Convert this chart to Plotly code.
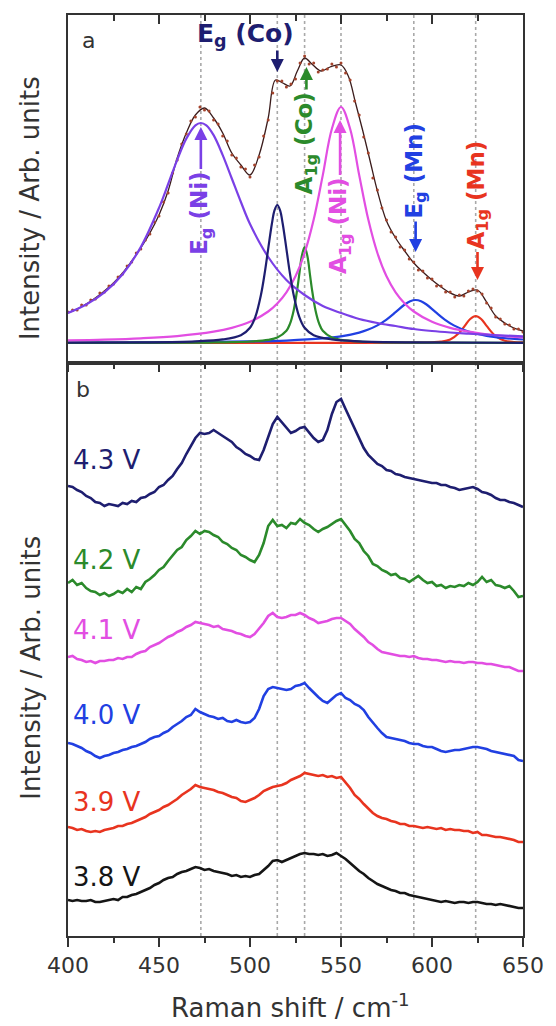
import numpy as np
import plotly.graph_objects as go

FONT = "DejaVu Sans"
AX = "#333333"

# ---------------- Raman shift sampling (cm-1) ----------------
shift = np.arange(400, 650.01, 2.5)

# ---------------- Panel a: measured spectrum + fit ----------------
measured_a = [31, 33, 33, 38, 38, 43, 44, 50, 51, 57,
              59, 66, 69, 77, 81, 90, 94, 103, 109, 121,
              127, 141, 150, 170, 183, 199, 209, 222, 226, 236,
              233, 232, 223, 219, 207, 202, 188, 185, 176, 174,
              166, 178, 186, 207, 223, 250, 262, 262, 256, 259,
              264, 280, 287, 279, 280, 271, 273, 274, 279, 276,
              280, 270, 263, 242, 228, 206, 190, 165, 153, 135,
              123, 111, 106, 96, 93, 84, 81, 73, 72, 65,
              64, 57, 57, 51, 51, 46, 48, 47, 52, 54,
              52, 49, 40, 35, 26, 24, 19, 18, 14, 14,
              11]

fit_x = [400, 405, 410, 415, 420, 425, 430, 435, 440, 445, 450, 455, 460, 465,
         470, 475, 480, 485, 490, 495, 500, 505, 510, 514, 518, 522, 526, 530,
         534, 539, 544, 550, 554, 558, 562, 566, 570, 575, 580, 585, 590, 595,
         600, 605, 610, 615, 620, 625, 630, 635, 640, 645, 650]
fit_y = [30, 34, 39, 45, 52, 60, 70, 82, 95, 110, 128, 152, 185, 210,
         228, 235, 225, 210, 190, 178, 168, 188, 225, 263, 260, 257, 272, 285,
         279, 272, 276, 278, 267, 240, 212, 182, 152, 122, 105, 92, 80, 71,
         63, 56, 50, 47, 51, 53, 41, 27, 20, 15, 12]

# fitted bands
eg_ni_x = [400, 410, 420, 430, 440, 450, 455, 460, 465, 470, 473, 476, 480, 485,
           490, 495, 500, 510, 520, 530, 540, 550, 560, 570, 580, 590, 600, 610,
           620, 630, 640, 650]
eg_ni_y = [30.0, 38.5, 50.7, 68.8, 95.9, 135.1, 158.8, 183.2, 204.4, 217.7, 220, 217.7,
           207.9, 187.9, 164.5, 141.0, 119.0, 86.0, 63.0, 48.0, 37.0, 30.0, 24.0, 20.0,
           17.0, 14.0, 12.0, 10.5, 9.3, 8.3, 7.4, 6.7]

eg_co_x = [400, 440, 470, 485, 495, 500, 503, 506, 508, 510, 512, 513.5, 515,
           516.5, 518, 520, 522, 524, 527, 530, 535, 545, 560, 590, 650]
eg_co_y = [0.25, 0.6, 1.63, 3.55, 7.8, 15.2, 26.5, 48, 69, 94.2, 119, 132.8, 138,
           132.8, 119, 94.2, 69, 48, 26.5, 15.2, 7.8, 3.55, 1.63, 0.6, 0.2]

a1g_co_x = [400, 470, 480, 490, 500, 510, 515, 520, 522, 524, 526, 527, 528.5, 530,
            531.5, 533, 534, 536, 538, 540, 545, 550, 560, 570, 590, 650]
a1g_co_y = [0.08, 0.37, 0.54, 0.84, 1.5, 3.2, 5.5, 12.2, 19.4, 32.6, 54.2, 67.7, 87.2, 96,
            87.2, 67.7, 54.2, 32.6, 19.4, 12.2, 5.5, 3.2, 1.5, 0.84, 0.37, 0.09]

a1g_ni_x = [400, 420, 440, 460, 480, 490, 500, 510, 515, 520, 525, 530, 535, 540,
            545, 550, 555, 560, 565, 570, 575, 580, 585, 590, 600, 610, 620, 630,
            640, 650]
a1g_ni_y = [2.56, 3.39, 4.71, 6.97, 11.3, 15.1, 21.2, 31.5, 39.5, 50.7, 66.7, 90.0, 123.4,
            167.9, 214.3, 236, 214.3, 167.9, 123.4, 90.0, 66.7, 50.7, 39.5, 31.5, 21.2,
            15.1, 11.3, 8.75, 6.97, 5.68]

eg_mn_x = [400, 450, 500, 520, 540, 550, 560, 565, 570, 575, 580, 585, 588, 591,
           594, 597, 602, 607, 612, 620, 630, 640, 650]
eg_mn_y = [0.36, 0.65, 1.54, 2.46, 4.53, 6.63, 10.4, 13.4, 17.6, 23.4, 30.8, 38.5, 41.8, 43,
           41.8, 38.5, 30.8, 23.4, 17.6, 11.5, 7.2, 4.9, 3.5]

a1g_mn_x = [400, 560, 590, 600, 605, 610, 615, 618, 621, 624, 627, 630, 635, 640, 645, 650]
a1g_mn_y = [0.05, 0.11, 0.38, 0.72, 1.3, 3.5, 10.3, 17.1, 24.0, 27, 24.0, 17.1, 6.8, 2.3,
            1.0, 0.62]

# band positions marked by dotted guides
band_positions = [473, 515, 530, 550, 590, 624]

# ---------------- Panel b: spectra vs. potential (offset) ----------------
potentials = ["4.3 V", "4.2 V", "4.1 V", "4.0 V", "3.9 V", "3.8 V"]

v43 = [450, 449, 446, 444, 440, 438, 434, 433, 430, 432,
       431, 430, 433, 432, 435, 434, 438, 439, 442, 444,
       449, 451, 456, 460, 467, 473, 482, 490, 498, 503,
       502, 503, 506, 503, 500, 497, 494, 489, 486, 482,
       480, 477, 476, 486, 498, 512, 519, 514, 508, 503,
       505, 508, 509, 503, 498, 494, 496, 506, 522, 534,
       537, 527, 517, 508, 498, 488, 481, 476, 472, 470,
       466, 465, 462, 461, 459, 458, 457, 456, 455, 454,
       453, 453, 451, 451, 449, 448, 446, 447, 448, 449,
       447, 444, 443, 441, 438, 436, 436, 434, 433, 431,
       429]
v42 = [353, 356, 351, 353, 348, 345, 344, 341, 343, 340,
       342, 345, 343, 347, 344, 349, 347, 354, 357, 361,
       366, 369, 375, 380, 386, 389, 396, 400, 405, 402,
       405, 404, 401, 399, 394, 392, 388, 386, 381, 379,
       376, 374, 381, 393, 410, 416, 410, 411, 408, 413,
       412, 417, 413, 411, 407, 404, 407, 409, 412, 415,
       417, 411, 405, 397, 393, 385, 380, 372, 370, 366,
       364, 361, 362, 358, 357, 354, 357, 360, 356, 353,
       354, 350, 351, 348, 350, 349, 351, 350, 353, 351,
       354, 359, 354, 356, 351, 350, 348, 350, 345, 339,
       340]
v41 = [279, 280, 277, 276, 274, 275, 273, 275, 275, 276,
       276, 278, 277, 279, 279, 282, 284, 285, 289, 291,
       293, 296, 299, 301, 304, 306, 309, 311, 314, 313,
       312, 311, 309, 310, 307, 306, 305, 303, 302, 300,
       299, 302, 307, 313, 320, 323, 319, 318, 319, 321,
       321, 323, 321, 318, 316, 313, 314, 315, 317, 318,
       318, 315, 312, 307, 303, 299, 294, 291, 287, 284,
       283, 282, 281, 280, 280, 279, 280, 278, 277, 277,
       276, 276, 275, 274, 275, 274, 274, 273, 274, 274,
       273, 273, 272, 272, 271, 270, 269, 269, 267, 265,
       265]
v40 = [193, 192, 190, 188, 185, 183, 180, 178, 180, 181,
       183, 184, 186, 187, 189, 190, 192, 194, 197, 199,
       200, 203, 205, 209, 212, 215, 219, 221, 227, 224,
       222, 220, 219, 217, 218, 215, 214, 216, 214, 213,
       214, 218, 227, 240, 247, 249, 248, 247, 246, 247,
       250, 251, 253, 248, 243, 239, 235, 233, 237, 241,
       243, 238, 236, 232, 230, 226, 219, 213, 208, 203,
       199, 198, 197, 196, 195, 193, 192, 192, 190, 189,
       189, 187, 185, 184, 185, 186, 186, 187, 188, 189,
       189, 188, 187, 185, 184, 183, 182, 181, 180, 176,
       175]
v39 = [109, 108, 106, 107, 105, 104, 105, 104, 106, 107,
       108, 110, 110, 112, 113, 115, 117, 119, 122, 124,
       126, 129, 131, 134, 137, 141, 144, 147, 151, 149,
       148, 147, 146, 144, 143, 141, 139, 138, 135, 134,
       136, 138, 141, 145, 147, 149, 150, 151, 153, 156,
       158, 160, 163, 162, 161, 160, 161, 159, 160, 158,
       159, 154, 148, 141, 137, 132, 127, 123, 120, 118,
       117, 115, 114, 112, 112, 110, 110, 109, 108, 109,
       108, 107, 108, 106, 107, 106, 106, 105, 105, 103,
       104, 101, 101, 100, 99, 99, 98, 97, 96, 94,
       94]
v38 = [36, 35, 36, 35, 35, 36, 34, 34, 35, 36,
       37, 36, 39, 39, 41, 42, 44, 46, 48, 51,
       53, 56, 58, 59, 62, 64, 65, 67, 69, 68,
       66, 67, 65, 64, 63, 62, 60, 61, 59, 60,
       59, 61, 62, 66, 70, 75, 76, 74, 76, 78,
       80, 82, 83, 82, 82, 81, 82, 80, 81, 83,
       80, 77, 73, 69, 65, 62, 58, 55, 52, 50,
       48, 46, 45, 43, 43, 41, 40, 39, 38, 37,
       36, 35, 34, 35, 34, 33, 34, 34, 33, 34,
       34, 33, 32, 32, 31, 32, 31, 30, 29, 28,
       28]

spectra_b = [v43, v42, v41, v40, v39, v38]
for s in spectra_b + [measured_a]:
    assert len(s) == len(shift)

NAVY = "#1e1e70"
GREEN = "#2b8a2b"
MAGENTA = "#e24ee2"
BLUE = "#2140e2"
RED = "#e8341f"
PURPLE = "#7a40e6"
BLACK = "#151515"
b_colors = [NAVY, GREEN, MAGENTA, BLUE, RED, BLACK]

fig = go.Figure()

# ---- panel a ----
fig.add_trace(go.Scatter(x=fit_x, y=fit_y, mode="lines", line=dict(color="#3b1c1c", width=1.3),
                         line_shape="spline", xaxis="x2", yaxis="y2"))
fig.add_trace(go.Scatter(x=shift, y=measured_a, mode="markers",
                         marker=dict(color="#a4432c", size=3), xaxis="x2", yaxis="y2"))
for bx, by, col in [(a1g_mn_x, a1g_mn_y, RED), (eg_mn_x, eg_mn_y, BLUE),
                    (a1g_co_x, a1g_co_y, GREEN), (a1g_ni_x, a1g_ni_y, MAGENTA),
                    (eg_ni_x, eg_ni_y, PURPLE), (eg_co_x, eg_co_y, NAVY)]:
    fig.add_trace(go.Scatter(x=bx, y=by, mode="lines", line=dict(color=col, width=2.2),
                             line_shape="spline", xaxis="x2", yaxis="y2"))
# registers the top tick axis of panel a
fig.add_trace(go.Scatter(x=[], y=[], xaxis="x3", yaxis="y2", showlegend=False))

# ---- panel b ----
for vals, col in zip(spectra_b, b_colors):
    fig.add_trace(go.Scatter(x=shift, y=vals, mode="lines", line=dict(color=col, width=2.6),
                             xaxis="x", yaxis="y"))

PB = 573 / 921

tickfont = dict(family=FONT, size=22, color=AX)
fig.update_layout(
    width=556, height=1026, autosize=False,
    margin=dict(l=68, r=23, t=15, b=90),
    paper_bgcolor="white", plot_bgcolor="white",
    showlegend=False,
    font=dict(family=FONT, color=AX),
    xaxis=dict(domain=[0, 1], anchor="y", range=[400, 650], tick0=400, dtick=50,
               ticks="outside", ticklen=9, tickwidth=2, tickcolor=AX,
               minor=dict(tick0=400, dtick=25, ticks="outside", ticklen=5, tickwidth=1.5,
                          tickcolor=AX),
               showline=True, linecolor=AX, linewidth=2, mirror=True,
               showgrid=False, zeroline=False, tickfont=tickfont),
    yaxis=dict(domain=[0, PB], range=[0, 573], showline=True, linecolor=AX, linewidth=2,
               mirror=True, ticks="", showticklabels=False, showgrid=False, zeroline=False),
    xaxis2=dict(anchor="y2", range=[400, 650], tick0=400, dtick=50,
                ticks="outside", ticklen=7, tickwidth=2, tickcolor=AX,
                minor=dict(tick0=400, dtick=25, ticks="outside", ticklen=4, tickwidth=1.5,
                           tickcolor=AX),
                showticklabels=False, showline=True, linecolor=AX, linewidth=2,
                showgrid=False, zeroline=False),
    xaxis3=dict(overlaying="x2", anchor="y2", side="top", range=[400, 650], tick0=400, dtick=50,
                ticks="inside", ticklen=9, tickwidth=2, tickcolor=AX,
                minor=dict(tick0=400, dtick=25, ticks="inside", ticklen=6, tickwidth=1.5,
                           tickcolor=AX),
                showticklabels=False, showline=True, linecolor=AX, linewidth=2,
                showgrid=False, zeroline=False),
    yaxis2=dict(domain=[PB, 1], range=[-20, 328], showline=True, linecolor=AX, linewidth=2,
                mirror=True, ticks="", showticklabels=False, showgrid=False, zeroline=False),
)

# dotted guides through both panels
for pos in band_positions:
    fig.add_shape(type="line", xref="x", yref="paper", x0=pos, x1=pos, y0=0, y1=1,
                  line=dict(color="#a9a9a9", width=1.6, dash="dot"), layer="below")

ann = []
# axis titles
ann.append(dict(text="Raman shift / cm<sup>-1</sup>", xref="paper", yref="paper",
                x=0.49, y=-0.0965, xanchor="center", yanchor="bottom", showarrow=False,
                font=dict(family=FONT, size=26, color=AX)))
for yc in [0.79, 0.291]:
    ann.append(dict(text="Intensity / Arb. units", xref="paper", yref="paper",
                    x=-0.082, y=yc, xanchor="center", yanchor="middle", textangle=-90,
                    showarrow=False, font=dict(family=FONT, size=26, color=AX)))
# panel letters
ann.append(dict(text="a", xref="x2", yref="y2", x=411.5, y=303, showarrow=False,
                xanchor="center", yanchor="middle", font=dict(family=FONT, size=22, color=AX)))
ann.append(dict(text="b", xref="x", yref="y", x=408, y=546, showarrow=False,
                xanchor="center", yanchor="middle", font=dict(family=FONT, size=22, color=AX)))

# band labels
bold = dict(family=FONT, size=23, weight="bold")
ann.append(dict(text="E<sub>g</sub> (Co)", xref="x2", yref="y2", x=497.5, y=308,
                showarrow=False, xanchor="center", yanchor="middle",
                font=dict(bold, size=25, color=NAVY)))
ann.append(dict(text="", xref="x2", yref="y2", x=515, y=271, axref="x2", ayref="y2",
                ax=515, ay=294, showarrow=True, arrowhead=2, arrowsize=1.0,
                arrowwidth=2.6, arrowcolor=NAVY, standoff=0, startstandoff=0))
# rotated labels, each with an arrow from the label to its band
for txt, xc, yc, yh, col in [("E<sub>g</sub> (Ni)", 473, 130, 216, PURPLE),
                             ("A<sub>1g</sub> (Co)", 531, 200, 276, GREEN),
                             ("A<sub>1g</sub> (Ni)", 549.5, 117, 223, MAGENTA),
                             ("E<sub>g</sub> (Mn)", 591, 172, 91, BLUE),
                             ("A<sub>1g</sub> (Mn)", 625, 148, 63, RED)]:
    ann.append(dict(text=txt, xref="x2", yref="y2", x=xc, y=yh, axref="x2", ayref="y2",
                    ax=xc, ay=yc, textangle=-90, showarrow=True, arrowhead=2,
                    arrowsize=1.0, arrowwidth=2.6, arrowcolor=col, standoff=0,
                    startstandoff=1, xanchor="center", yanchor="middle",
                    font=dict(bold, color=col)))

# potential labels
for txt, yc, col in zip(potentials, [476, 376, 306, 221, 134, 59], b_colors):
    ann.append(dict(text=txt, xref="x", yref="y", x=401.5, y=yc, showarrow=False,
                    xanchor="left", yanchor="middle",
                    font=dict(family=FONT, size=26, color=col)))

fig.update_layout(annotations=ann)
fig.write_html("out.html")
